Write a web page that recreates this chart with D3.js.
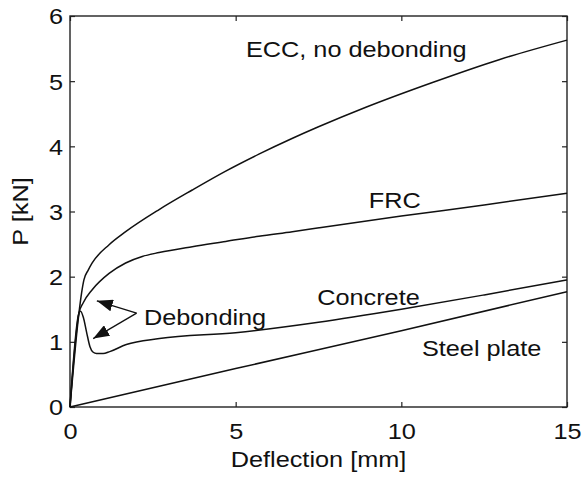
<!DOCTYPE html>
<html lang="en">
<head>
    <meta charset="UTF-8">
    <title>Load deflection</title>
    <style>
        body { margin: 0; background: #fff; }
        text { font-family: "Liberation Sans", Arial, sans-serif; fill: #111; }
    </style>
</head>
<body>

<script src="https://d3js.org/d3.v7.min.js"></script>
<script>
    // deflection [mm] / load [kN]
    var eccX = [0, 0.27, 0.35, 0.42, 0.55, 0.67, 1.18, 1.68, 2.69, 3.69, 4.7, 5.7, 6.7, 7.5, 8.93, 10.94, 12.95, 15];
    var eccP = [0, 1.44, 1.75, 1.95, 2.1, 2.21, 2.49, 2.69, 3.03, 3.33, 3.62, 3.88, 4.12, 4.3, 4.6, 4.98, 5.33, 5.63];

    var frcX = [0, 0.27, 0.4, 0.67, 1.18, 1.68, 2.18, 2.69, 3.69, 4.7, 5.7, 6.71, 7.52, 10, 12.5, 15];
    var frcP = [0, 1.44, 1.6, 1.8, 2.05, 2.21, 2.31, 2.37, 2.46, 2.54, 2.62, 2.69, 2.75, 2.93, 3.1, 3.28];

    var concX = [0, 0.27, 0.32, 0.4, 0.5, 0.6, 0.7, 0.8, 1.0, 1.2, 1.7, 2.7, 5, 7.5, 10, 12.5, 15];
    var concP = [0, 1.44, 1.47, 1.38, 1.15, 0.93, 0.84, 0.82, 0.82, 0.85, 0.96, 1.05, 1.14, 1.3, 1.5, 1.72, 1.95];

    var steelX = [0, 5, 10, 15];
    var steelP = [0, 0.59, 1.17, 1.77];

    var xTicks = [0, 5, 10, 15];
    var yTicks = [0, 1, 2, 3, 4, 5, 6];

    // curve labels: [text, x, P]
    var labels = [
        ["ECC, no debonding", 5.31, 5.37],
        ["FRC", 9.02, 3.05],
        ["Concrete", 7.46, 1.56],
        ["Debonding", 2.23, 1.26],
        ["Steel plate", 10.62, 0.78]
    ];
    // arrows from a common point to the two debonding spots
    var arrowFrom = [2.01, 1.44];
    var arrowTips = [[0.81, 1.63], [0.70, 1.05]];

    var margin = {top: 16, right: 15, bottom: 70, left: 70},
        width = 582 - margin.left - margin.right,
        height = 477 - margin.top - margin.bottom;

    var sx = 1.15; // text looks horizontally stretched in the original
    var fs = 22;

    var x = d3.scaleLinear().domain([0, 15]).range([0, width]);
    var y = d3.scaleLinear().domain([0, 6]).range([height, 0]);

    var svg = d3.select('body')
                .append('svg')
                .attr('width', 582)
                .attr('height', 477)
              .append('g')
                .attr('transform', `translate(${margin.left}, ${margin.top})`);

    function styleAxis(g) {
        g.select('.domain').remove();
        g.selectAll('line').attr('stroke', '#222').attr('stroke-width', 1.2);
        g.selectAll('text').attr('font-size', fs);
    }

    // bottom axis
    svg.append('g')
        .attr('transform', `translate(0, ${height})`)
        .call(d3.axisBottom(x).tickValues(xTicks).tickSize(-5).tickPadding(16).tickFormat(d3.format('d')))
        .call(styleAxis)
        .selectAll('text')
        .attr('transform', `scale(${sx},1)`);

    // top axis, ticks only
    svg.append('g')
        .call(d3.axisTop(x).tickValues(xTicks).tickSize(-5).tickFormat(''))
        .call(styleAxis);

    // left axis
    svg.append('g')
        .call(d3.axisLeft(y).tickValues(yTicks).tickSize(-5).tickPadding(2).tickFormat(d3.format('d')))
        .call(styleAxis)
        .selectAll('text')
        .attr('x', -7 / sx)
        .attr('dy', '0.36em')
        .attr('transform', `scale(${sx},1)`);

    // right axis, ticks only
    svg.append('g')
        .attr('transform', `translate(${width}, 0)`)
        .call(d3.axisRight(y).tickValues(yTicks).tickSize(-5).tickFormat(''))
        .call(styleAxis);

    // frame
    svg.append('rect')
        .attr('width', width)
        .attr('height', height)
        .attr('fill', 'none')
        .attr('stroke', '#222')
        .attr('stroke-width', 1.4);

    var line = d3.line()
        .x(function(d) { return x(d[0]); })
        .y(function(d) { return y(d[1]); })
        .curve(d3.curveMonotoneX);

    var series = [[eccX, eccP], [frcX, frcP], [concX, concP], [steelX, steelP]];

    svg.append('g').selectAll('path')
        .data(series.map(function(s) { return d3.zip(s[0], s[1]); }))
        .enter().append('path')
        .attr('d', line)
        .attr('fill', 'none')
        .attr('stroke', '#111')
        .attr('stroke-width', 1.5);

    // labels
    svg.append('g').selectAll('text')
        .data(labels)
        .enter().append('text')
        .attr('transform', function(d) { return `translate(${x(d[1])}, ${y(d[2])}) scale(${sx},1)`; })
        .attr('font-size', fs)
        .text(function(d) { return d[0]; });

    // arrows
    svg.append('defs').append('marker')
        .attr('id', 'head')
        .attr('viewBox', '0 0 16 12')
        .attr('refX', 16).attr('refY', 6)
        .attr('markerWidth', 16).attr('markerHeight', 12)
        .attr('markerUnits', 'userSpaceOnUse')
        .attr('orient', 'auto')
      .append('path')
        .attr('d', 'M0,0L16,6L0,12Z')
        .attr('fill', '#111');

    svg.append('g').selectAll('line')
        .data(arrowTips)
        .enter().append('line')
        .attr('x1', x(arrowFrom[0])).attr('y1', y(arrowFrom[1]))
        .attr('x2', function(d) { return x(d[0]); })
        .attr('y2', function(d) { return y(d[1]); })
        .attr('stroke', '#111')
        .attr('stroke-width', 1.3)
        .attr('marker-end', 'url(#head)');

    // axis titles
    svg.append('text')
        .attr('transform', `translate(${width / 2}, ${height + 60}) scale(${sx},1)`)
        .attr('text-anchor', 'middle')
        .attr('font-size', fs)
        .text('Deflection [mm]');

    svg.append('text')
        .attr('transform', `translate(${-margin.left + 28}, ${height / 2}) rotate(-90) scale(${sx},1)`)
        .attr('text-anchor', 'middle')
        .attr('font-size', fs)
        .text('P [kN]');
</script>
</body>
</html>
